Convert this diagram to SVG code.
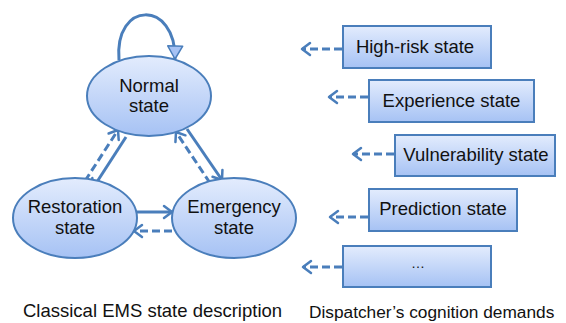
<svg xmlns="http://www.w3.org/2000/svg" width="566" height="323" viewBox="0 0 566 323">
<defs>
<linearGradient id="gf" x1="0" y1="0" x2="0" y2="1">
<stop offset="0" stop-color="#e3ecfd"/>
<stop offset="1" stop-color="#a6c2f4"/>
</linearGradient>
<marker id="ah" markerUnits="userSpaceOnUse" markerWidth="14" markerHeight="16" viewBox="-10 -8 12 16" refX="0" refY="0" orient="auto">
<path d="M-8,-6 L0,0 L-8,6" fill="none" stroke="#4a7ebb" stroke-width="2.5" stroke-linecap="round" stroke-linejoin="round"/>
</marker>
<marker id="tri" markerUnits="userSpaceOnUse" markerWidth="18" markerHeight="18" viewBox="-15 -9 17 18" refX="0" refY="0" orient="auto">
<path d="M-13,-7.5 L0,0 L-13,7.5 Z" fill="#a6c2f4" stroke="#4a7ebb" stroke-width="1.5" stroke-linejoin="round"/>
</marker>
</defs>
<style>
.node{fill:url(#gf);stroke:#4a7ebb;stroke-width:2}
.t{font-family:"Liberation Sans",Arial,sans-serif;font-size:18.5px;fill:#111;text-anchor:middle}
.cap{font-family:"Liberation Sans",Arial,sans-serif;font-size:18.5px;fill:#111}
.c{fill:none;stroke:#4a7ebb;stroke-width:3}
.d{stroke-dasharray:8 4}
</style>
<rect width="566" height="323" fill="#fff"/>
<g id="connectors">
<path class="c" d="M119,60 C114,0 176,0 175,59" marker-end="url(#tri)"/>
<line class="c" x1="126" y1="137" x2="93" y2="188" marker-end="url(#ah)"/>
<line class="c d" x1="85" y1="181" x2="118" y2="130" marker-end="url(#ah)"/>
<line class="c" x1="187" y1="129" x2="222" y2="180" marker-end="url(#ah)"/>
<line class="c d" x1="210" y1="183" x2="176" y2="132" marker-end="url(#ah)"/>
<line class="c" x1="136" y1="212" x2="172" y2="212" marker-end="url(#ah)"/>
<line class="c d" x1="172" y1="231" x2="134" y2="231" marker-end="url(#ah)"/>
<line class="c d" x1="342" y1="49" x2="302" y2="49" marker-end="url(#ah)"/>
<line class="c d" x1="368" y1="97" x2="329" y2="97" marker-end="url(#ah)"/>
<line class="c d" x1="394" y1="154" x2="353" y2="154" marker-end="url(#ah)"/>
<line class="c d" x1="368" y1="217" x2="330" y2="217" marker-end="url(#ah)"/>
<line class="c d" x1="342" y1="267" x2="303" y2="267" marker-end="url(#ah)"/>
</g>
<g id="normal">
<ellipse class="node" cx="149" cy="96" rx="62" ry="40"/>
<text class="t" x="149" y="92">Normal</text>
<text class="t" x="149" y="112">state</text>
</g>
<g id="restoration">
<ellipse class="node" cx="75" cy="218" rx="62" ry="40"/>
<text class="t" x="75" y="213">Restoration</text>
<text class="t" x="75" y="234">state</text>
</g>
<g id="emergency">
<ellipse class="node" cx="234" cy="218" rx="62" ry="40"/>
<text class="t" x="234" y="213">Emergency</text>
<text class="t" x="234" y="234">state</text>
</g>
<g id="highrisk">
<rect class="node" x="343" y="26" width="148" height="42"/>
<text class="t" x="415" y="53">High-risk state</text>
</g>
<g id="experience">
<rect class="node" x="369" y="80" width="165" height="42"/>
<text class="t" x="451.5" y="107">Experience state</text>
</g>
<g id="vulnerability">
<rect class="node" x="395" y="135" width="160" height="41"/>
<text class="t" x="476" y="161">Vulnerability state</text>
</g>
<g id="prediction">
<rect class="node" x="369" y="189" width="148" height="42"/>
<text class="t" x="443" y="215">Prediction state</text>
</g>
<g id="more">
<rect class="node" x="343" y="246" width="148" height="41"/>
<text class="t" x="418" y="268" style="font-size:14px">…</text>
</g>
<text class="cap" x="23" y="317">Classical EMS state description</text>
<text class="cap" x="309" y="318" style="font-size:17.3px">Dispatcher’s cognition demands</text>
</svg>
